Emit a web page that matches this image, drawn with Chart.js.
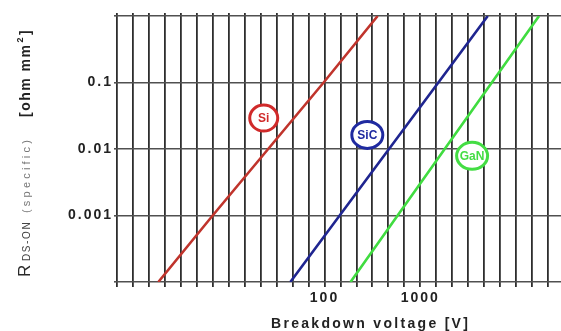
<!DOCTYPE html>
<html>
<head>
<meta charset="utf-8">
<script src="https://cdn.jsdelivr.net/npm/chart.js@4.4.0/dist/chart.umd.min.js"></script>
<style>
  html, body { margin: 0; padding: 0; background: #fff; }
  #wrap { width: 561px; height: 331px; }
</style>
</head>
<body>
<div id="wrap"><canvas id="chart" width="561" height="331"></canvas></div>
<script>
// specific on-resistance [ohm mm2] against breakdown voltage [V]
const siVoltage = [1.84, 6.8, 98, 359];
const siResistance = [0.0001, 0.001, 0.1, 1];
const sicVoltage = [44, 144, 5070];
const sicResistance = [0.0001, 0.001, 1];
const ganVoltage = [187, 1800, 17400];
const ganResistance = [0.0001, 0.01, 1];

const materials = ["Si", "SiC", "GaN"];
const labelVoltage = [23.2, 280, 3480];
const labelResistance = [0.0292, 0.0163, 0.0079];

const xTickLabels = [100, 1000];
const yTickLabels = [0.001, 0.01, 0.1];
const yDecades = [0.0001, 0.001, 0.01, 0.1, 1];

// vertical grid is six evenly spaced lines per decade
const xGridValues = [];
for (let k = -1; k <= 26; k++) xGridValues.push(Math.pow(10, k / 6));

const colors = { Si: "#c0342c", SiC: "#1f2590", GaN: "#40dc40" };
const circleColors = { Si: "#d02a2a", SiC: "#1f2aa0", GaN: "#44dd44" };

function pts(xs, ys) {
  return xs.map((v, i) => ({ x: v, y: ys[i] }));
}

function isTick(list, v) {
  return list.find(t => Math.abs(v - t) / t < 1e-6);
}

const decor = {
  id: "decor",
  beforeDraw(chart) {
    chart.ctx.letterSpacing = "2px";
  },
  afterDatasetsDraw(chart) {
    const ctx = chart.ctx;
    const xs = chart.scales.x, ys = chart.scales.y;
    const radii = [[14, 13], [15.5, 13.5], [15.5, 13.5]];
    ctx.save();
    ctx.letterSpacing = "0px";
    materials.forEach((m, i) => {
      const cx = xs.getPixelForValue(labelVoltage[i]);
      const cy = ys.getPixelForValue(labelResistance[i]);
      ctx.beginPath();
      ctx.ellipse(cx, cy, radii[i][0], radii[i][1], 0, 0, Math.PI * 2);
      ctx.fillStyle = "#fff";
      ctx.fill();
      ctx.lineWidth = 3;
      ctx.strokeStyle = circleColors[m];
      ctx.stroke();
      ctx.fillStyle = circleColors[m];
      ctx.font = "bold 12px 'Liberation Sans', Arial, sans-serif";
      ctx.textAlign = "center";
      ctx.textBaseline = "middle";
      ctx.fillText(m, cx, cy + 1);
    });
    ctx.restore();
  },
  afterDraw(chart) {
    const ctx = chart.ctx;
    ctx.save();
    // x title
    ctx.font = "bold 14px 'Liberation Sans', Arial, sans-serif";
    ctx.letterSpacing = "2.3px";
    ctx.fillStyle = "#222";
    ctx.textAlign = "left";
    ctx.textBaseline = "alphabetic";
    ctx.fillText("Breakdown voltage [V]", 271, 328);

    // y title, rotated, reading bottom to top
    ctx.translate(30, 277);
    ctx.rotate(-Math.PI / 2);
    ctx.font = "17px 'Liberation Sans', Arial, sans-serif";
    ctx.letterSpacing = "0px";
    ctx.fillStyle = "#2a2a2a";
    ctx.fillText("R", 0, 0);
    ctx.font = "10px 'Liberation Sans', Arial, sans-serif";
    ctx.letterSpacing = "1.6px";
    ctx.fillStyle = "#444";
    ctx.fillText("DS-ON", 16, 0);
    ctx.font = "11px 'Liberation Sans', Arial, sans-serif";
    ctx.letterSpacing = "3.2px";
    ctx.fillStyle = "#777";
    ctx.fillText("(specific)", 64, 0);
    ctx.font = "bold 14px 'Liberation Sans', Arial, sans-serif";
    ctx.letterSpacing = "1.5px";
    ctx.fillStyle = "#222";
    ctx.fillText("[ohm mm", 160, 0);
    let w = ctx.measureText("[ohm mm").width;
    ctx.font = "bold 9px 'Liberation Sans', Arial, sans-serif";
    ctx.fillText("2", 160 + w + 1, -7);
    const w2 = ctx.measureText("2").width;
    ctx.font = "bold 14px 'Liberation Sans', Arial, sans-serif";
    ctx.fillText("]", 160 + w + w2 + 2, 0);
    ctx.restore();
  }
};

const tickFont = { family: "'Liberation Sans', Arial, sans-serif", size: 14, weight: "bold" };

new Chart(document.getElementById("chart"), {
  type: "line",
  data: {
    datasets: [
      { label: "Si", data: pts(siVoltage, siResistance), borderColor: colors.Si },
      { label: "SiC", data: pts(sicVoltage, sicResistance), borderColor: colors.SiC },
      { label: "GaN", data: pts(ganVoltage, ganResistance), borderColor: colors.GaN }
    ]
  },
  options: {
    responsive: false,
    animation: false,
    devicePixelRatio: 1,
    layout: { padding: 0 },
    elements: {
      line: { borderWidth: 2.6, tension: 0, fill: false },
      point: { radius: 0 }
    },
    plugins: {
      legend: { display: false },
      tooltip: { enabled: false }
    },
    scales: {
      x: {
        type: "logarithmic",
        position: "bottom",
        min: Math.pow(10, -1 / 6),
        max: 29500,
        afterBuildTicks: s => { s.ticks = xGridValues.map(v => ({ value: v })); },
        afterFit: s => { s.height = 49; },
        grid: { color: "#2e2e2e", lineWidth: 1.8, tickLength: 5 },
        border: { display: false },
        ticks: {
          autoSkip: false,
          maxRotation: 0,
          padding: 3,
          color: "#222",
          font: tickFont,
          callback: v => { const t = isTick(xTickLabels, v); return t ? String(t) : ""; }
        }
      },
      x2: {
        type: "logarithmic",
        position: "top",
        min: Math.pow(10, -1 / 6),
        max: 29500,
        afterBuildTicks: s => { s.ticks = xGridValues.map(v => ({ value: v })); },
        afterFit: s => { s.height = 16; },
        grid: { color: "#2e2e2e", lineWidth: 1.8, tickLength: 3, drawOnChartArea: false },
        border: { display: false },
        ticks: { display: false }
      },
      y: {
        type: "logarithmic",
        min: 0.0001,
        max: 1,
        afterBuildTicks: s => { s.ticks = yDecades.map(v => ({ value: v })); },
        afterFit: s => { s.width = 117; },
        grid: { color: "#505050", lineWidth: 1.6, tickLength: 3 },
        border: { display: false },
        ticks: {
          autoSkip: false,
          padding: 1,
          color: "#222",
          font: tickFont,
          callback: v => { const t = isTick(yTickLabels, v); return t ? String(t) : ""; }
        }
      }
    }
  },
  plugins: [decor]
});
</script>
</body>
</html>
